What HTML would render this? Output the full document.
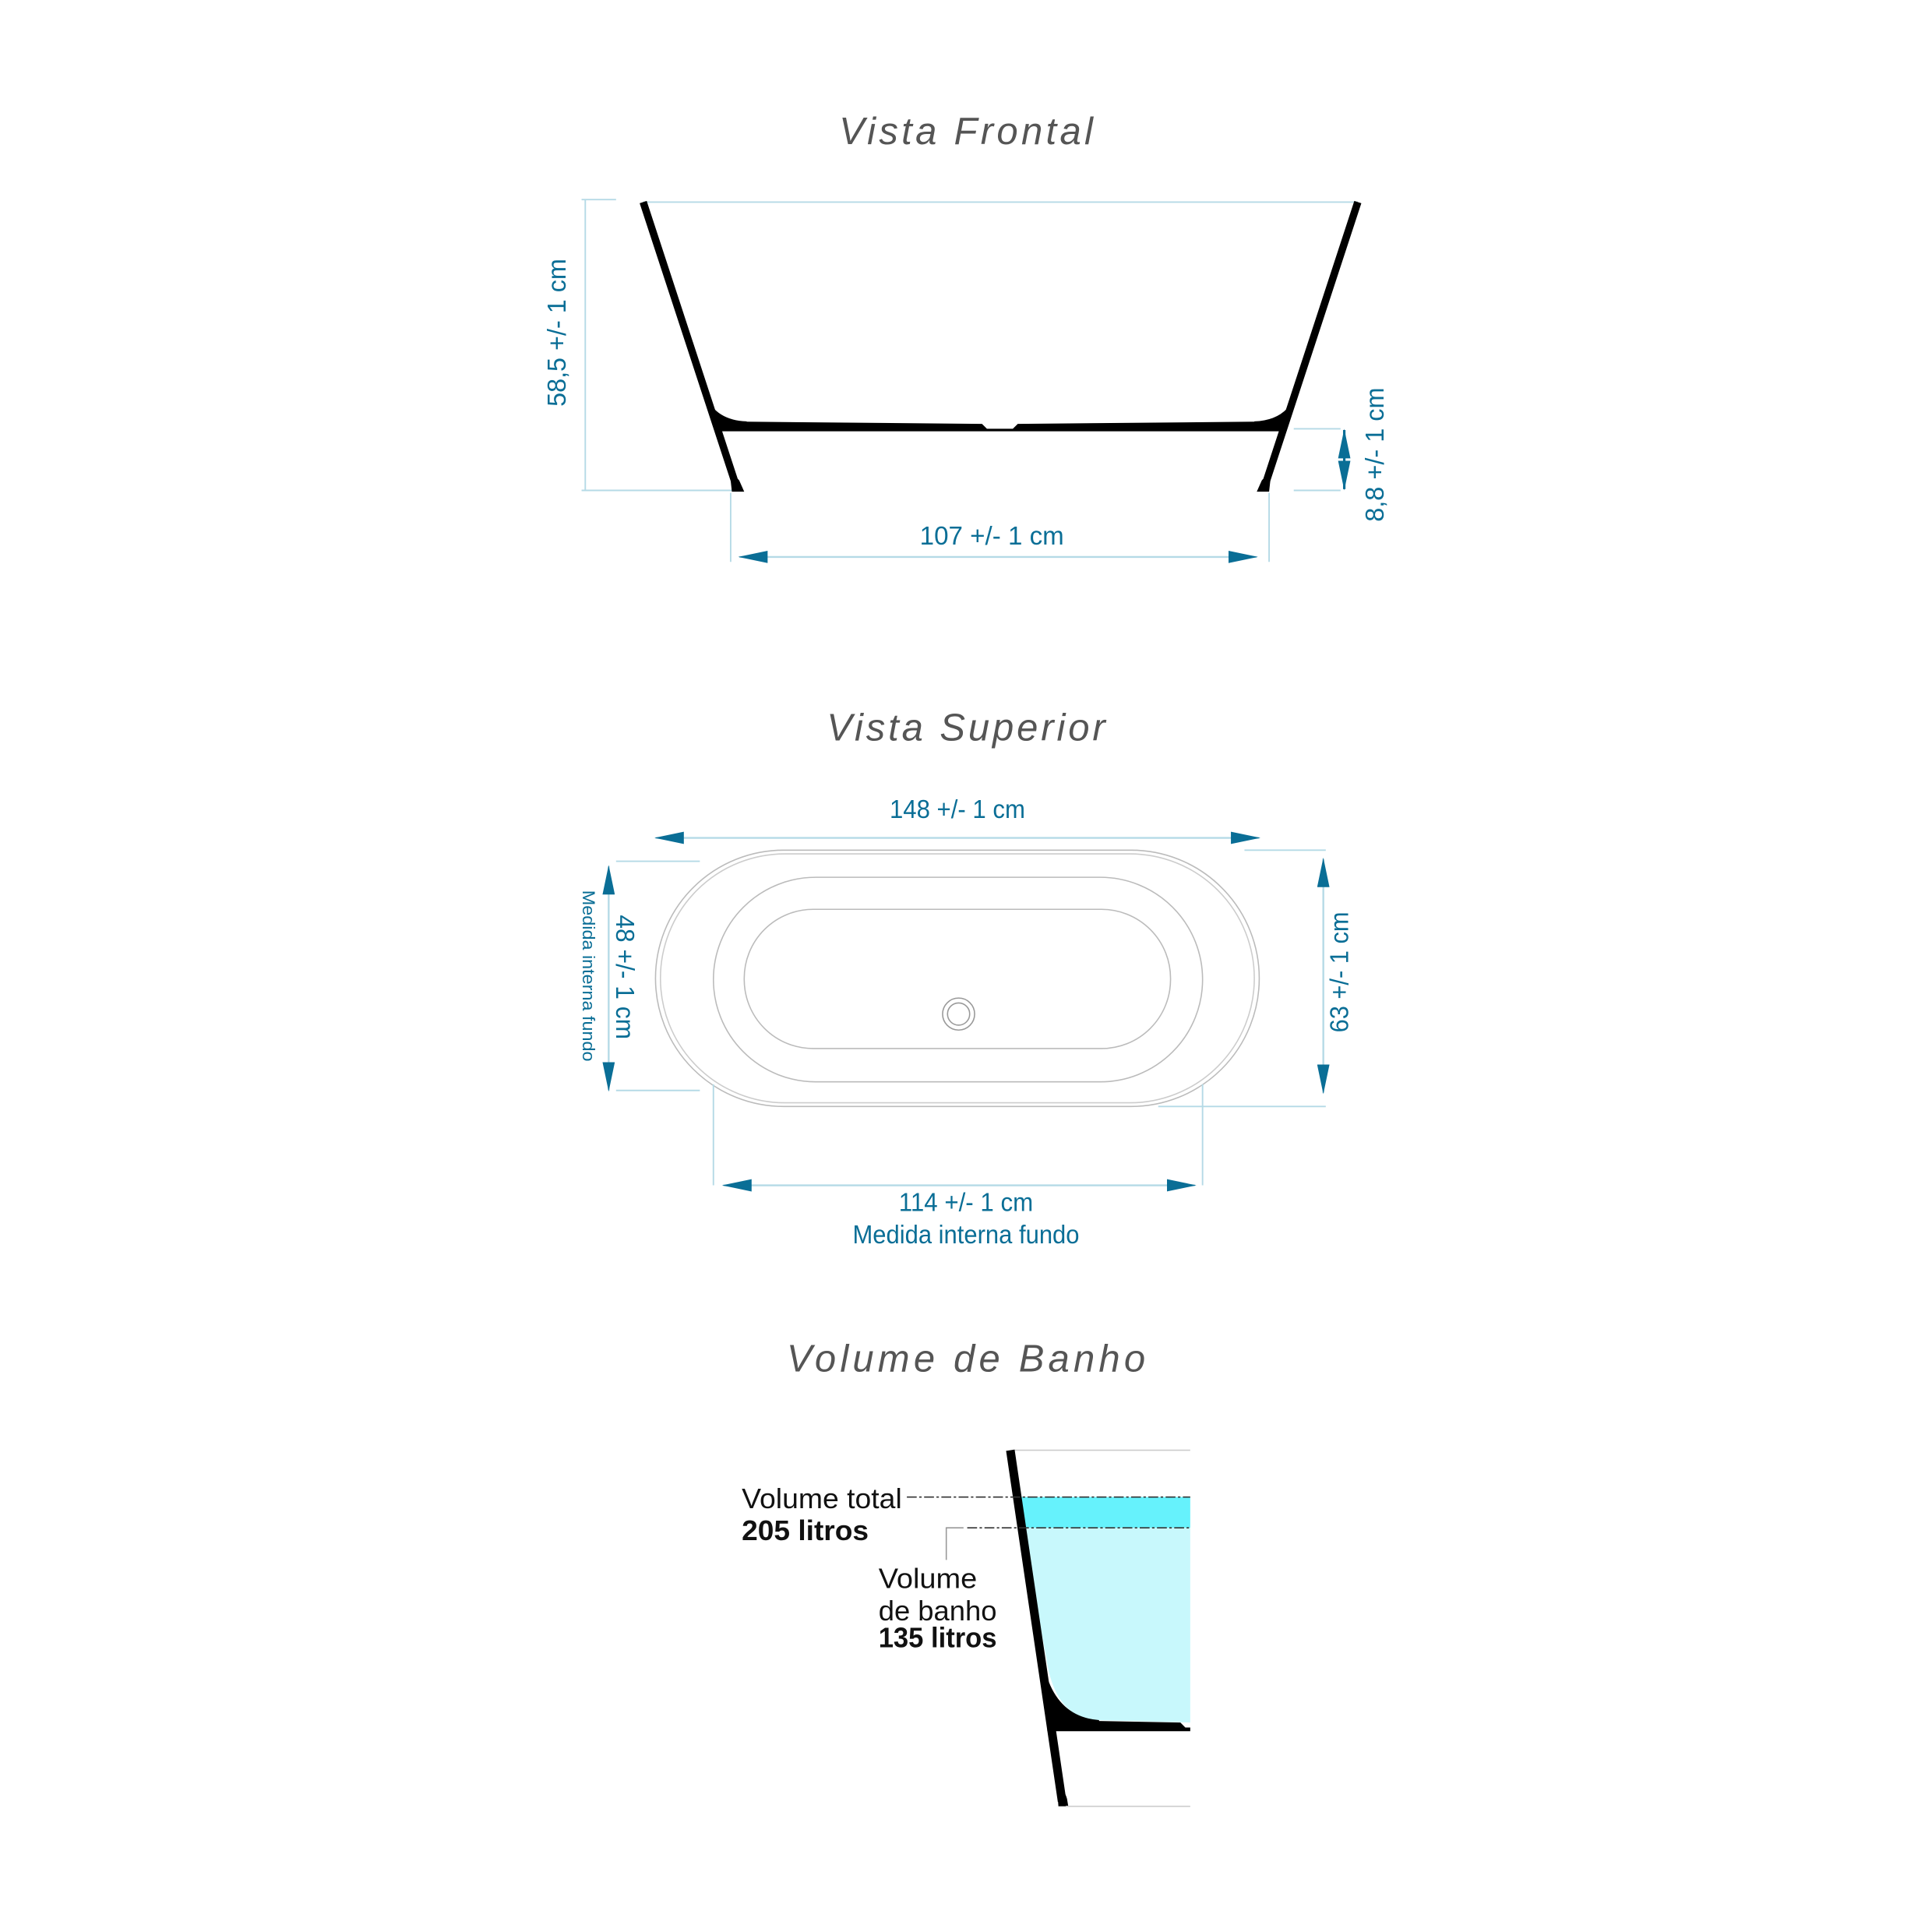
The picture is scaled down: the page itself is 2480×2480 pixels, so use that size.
<!DOCTYPE html>
<html><head><meta charset="utf-8"><style>
html,body{margin:0;padding:0;background:#fff;}
svg{display:block;}
.t{font-family:"Liberation Sans",sans-serif;font-style:italic;fill:#555;font-size:31px;text-anchor:middle;}
.d{font-family:"Liberation Sans",sans-serif;fill:#0a6e96;font-size:21px;text-anchor:middle;}
.k{font-family:"Liberation Sans",sans-serif;fill:#111;font-size:23px;}
.ln{stroke:#b5dae6;stroke-width:1.2;fill:none;}
.ar{stroke:#b5dae6;stroke-width:1.5;}
.b{stroke:#000;fill:none;stroke-linecap:butt;}
</style></head><body>
<svg width="2480" height="2480" viewBox="0 0 1568 1568" xmlns="http://www.w3.org/2000/svg">
<defs>
<marker id="a" viewBox="0 0 24 10" refX="23" refY="5" markerWidth="24" markerHeight="10" markerUnits="userSpaceOnUse" orient="auto"><path d="M0,0 L24,5 L0,10 Z" fill="#0a6e96"/></marker>
<marker id="as" viewBox="0 0 24 10" refX="1" refY="5" markerWidth="24" markerHeight="10" markerUnits="userSpaceOnUse" orient="auto"><path d="M24,0 L0,5 L24,10 Z" fill="#0a6e96"/></marker>
</defs>

<!-- Vista Frontal -->
<text class="t" x="784" y="117" textLength="206" lengthAdjust="spacing">Vista Frontal</text>
<line class="ln" x1="522" y1="164" x2="1102" y2="164" stroke="#ccc"/>
<line class="ln" x1="475" y1="162" x2="475" y2="398"/>
<line class="ln" x1="472" y1="162" x2="500" y2="162"/>
<line class="ln" x1="472" y1="398" x2="596" y2="398"/>
<text class="d" transform="translate(459,270) rotate(-90)" textLength="120" lengthAdjust="spacingAndGlyphs">58,5 +/- 1 cm</text>
<line class="b" x1="522" y1="164" x2="598" y2="396" stroke-width="6"/>
<line class="b" x1="1102" y1="164" x2="1026" y2="396" stroke-width="6"/>
<path d="M571,316 Q578,341 606,342 L606,349 L582,349 Z" fill="#000"/>
<path d="M1053,316 Q1046,341 1018,342 L1018,349 L1042,349 Z" fill="#000"/>
<path d="M580,342 L797,344 L801,348 L822,348 L826,344 L1044,342 L1044,350 L580,350 Z" fill="#000"/>
<path d="M593,390 Q597,386 600,390 L604,399 L594,399 Z" fill="#000"/>
<path d="M1031,390 Q1027,386 1024,390 L1020,399 L1030,399 Z" fill="#000"/>
<line class="ln" x1="1050" y1="348" x2="1088" y2="348"/>
<line class="ln" x1="1050" y1="398" x2="1088" y2="398"/>
<line x1="1091" y1="349" x2="1091" y2="397" stroke="#0a6e96" stroke-width="2" marker-end="url(#a)" marker-start="url(#as)"/>
<text class="d" transform="translate(1123,369) rotate(-90)" textLength="109" lengthAdjust="spacingAndGlyphs">8,8 +/- 1 cm</text>
<line class="ln" x1="593" y1="400" x2="593" y2="456"/>
<line class="ln" x1="1030" y1="400" x2="1030" y2="456"/>
<line class="ar" x1="600" y1="452" x2="1020" y2="452" marker-end="url(#a)" marker-start="url(#as)"/>
<text class="d" x="805" y="442" textLength="117" lengthAdjust="spacingAndGlyphs">107 +/- 1 cm</text>

<!-- Vista Superior -->
<text class="t" x="784" y="601" textLength="226" lengthAdjust="spacing">Vista Superior</text>
<text class="d" x="777" y="664" textLength="110" lengthAdjust="spacingAndGlyphs">148 +/- 1 cm</text>
<line class="ar" x1="532" y1="680" x2="1022" y2="680" marker-end="url(#a)" marker-start="url(#as)"/>
<rect x="532" y="690" width="490" height="208" rx="104" fill="none" stroke="#bbb" stroke-width="1"/>
<rect x="536" y="693" width="482" height="202" rx="101" fill="none" stroke="#ccc" stroke-width="1"/>
<rect x="579" y="712" width="397" height="166" rx="83" fill="none" stroke="#bbb" stroke-width="1"/>
<rect x="604" y="738" width="346" height="113" rx="56" fill="none" stroke="#bbb" stroke-width="1"/>
<circle cx="778" cy="823" r="13" fill="none" stroke="#999" stroke-width="1"/>
<circle cx="778" cy="823" r="9" fill="none" stroke="#999" stroke-width="1"/>
<line class="ln" x1="500" y1="699" x2="568" y2="699"/>
<line class="ln" x1="500" y1="885" x2="568" y2="885"/>
<line class="ar" x1="494" y1="703" x2="494" y2="885" marker-end="url(#a)" marker-start="url(#as)"/>
<text class="d" transform="translate(500,793) rotate(90)" textLength="101" lengthAdjust="spacingAndGlyphs">48 +/- 1 cm</text>
<text class="d" style="font-size:14px" transform="translate(473,792) rotate(90)" textLength="139" lengthAdjust="spacingAndGlyphs">Medida interna fundo</text>
<line class="ln" x1="1010" y1="690" x2="1076" y2="690"/>
<line class="ln" x1="940" y1="898" x2="1076" y2="898"/>
<line class="ar" x1="1074" y1="697" x2="1074" y2="887" marker-end="url(#a)" marker-start="url(#as)"/>
<text class="d" transform="translate(1094,789) rotate(-90)" textLength="98" lengthAdjust="spacingAndGlyphs">63 +/- 1 cm</text>
<line class="ln" x1="579" y1="880" x2="579" y2="962"/>
<line class="ln" x1="976" y1="880" x2="976" y2="962"/>
<line class="ar" x1="587" y1="962" x2="970" y2="962" marker-end="url(#a)" marker-start="url(#as)"/>
<text class="d" x="784" y="983" textLength="109" lengthAdjust="spacingAndGlyphs">114 +/- 1 cm</text>
<text class="d" x="784" y="1009" textLength="184" lengthAdjust="spacingAndGlyphs">Medida interna fundo</text>

<!-- Volume de Banho -->
<text class="t" x="784" y="1113" textLength="291" lengthAdjust="spacing">Volume de Banho</text>
<line x1="822" y1="1177" x2="966" y2="1177" stroke="#ccc" stroke-width="1"/>
<path d="M826,1215 L966,1215 L966,1240 L830,1240 Z" fill="#66f2fc"/>
<path d="M830,1240 L966,1240 L966,1398 L890,1396 Q856,1394 849,1345 Z" fill="#c8f8fc"/>
<line class="b" x1="820" y1="1177" x2="862" y2="1462" stroke-width="7"/>
<path d="M845,1338 Q851,1393 892,1396 L892,1403 L852,1403 Z" fill="#000"/>
<path d="M850,1396 L958,1398 L962,1402 L966,1402 L966,1405 L850,1405 Z" fill="#000"/>
<path d="M858,1452 Q864,1452 866,1460 L867,1466 L859,1466 Z" fill="#000"/>
<line x1="865" y1="1466" x2="966" y2="1466" stroke="#ccc" stroke-width="1"/>
<line x1="736" y1="1215" x2="966" y2="1215" stroke="#333" stroke-width="1" stroke-dasharray="8,2,2,2"/>
<line x1="785" y1="1240" x2="966" y2="1240" stroke="#333" stroke-width="1" stroke-dasharray="8,2,2,2"/>
<path d="M782,1240 L768,1240 L768,1266" fill="none" stroke="#999" stroke-width="1"/>
<text class="k" x="602" y="1224" textLength="130" lengthAdjust="spacingAndGlyphs">Volume total</text>
<text class="k" x="602" y="1250" font-weight="bold" textLength="103" lengthAdjust="spacingAndGlyphs">205 litros</text>
<text class="k" x="713" y="1289" textLength="80" lengthAdjust="spacingAndGlyphs">Volume</text>
<text class="k" x="713" y="1315" textLength="96" lengthAdjust="spacingAndGlyphs">de banho</text>
<text class="k" x="713" y="1337" font-weight="bold" textLength="96" lengthAdjust="spacingAndGlyphs">135 litros</text>
</svg>
</body></html>
